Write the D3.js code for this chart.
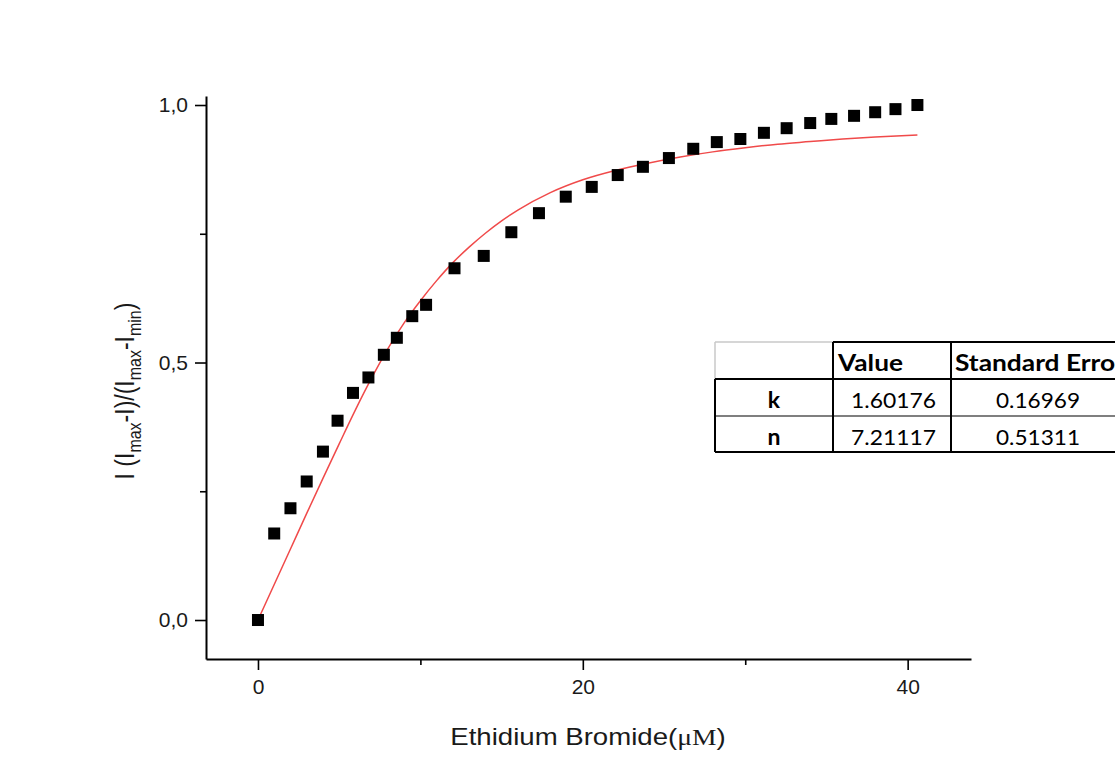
<!DOCTYPE html>
<html>
<head>
<meta charset="utf-8">
<script src="https://cdn.jsdelivr.net/npm/d3@7"></script>
<style>
  body { margin: 0; background: #fff; }
  text { font-family: "Liberation Sans", Arial, sans-serif; }
</style>
</head>
<body>
<div id="my_dataviz"></div>
<script>

// measured points (concentration, normalised intensity)
var conc = [0, 1, 2, 3, 4, 4.9, 5.85, 6.8, 7.75, 8.55, 9.5, 10.35, 12.1, 13.9, 15.6, 17.3,
            18.95, 20.55, 22.15, 23.7, 25.3, 26.8, 28.25, 29.7, 31.15, 32.55, 34, 35.3, 36.7, 38, 39.25, 40.6];
var signal = [0, 0.168, 0.217, 0.269, 0.327, 0.387, 0.441, 0.471, 0.515, 0.548, 0.59, 0.612, 0.683, 0.707, 0.753, 0.79,
              0.822, 0.841, 0.864, 0.88, 0.897, 0.915, 0.928, 0.934, 0.946, 0.955, 0.965, 0.973, 0.979, 0.986, 0.992, 1.0];

// fitted curve
var fitX = [0, 1, 2, 3, 4, 5, 6, 7, 8, 9, 10, 11, 12, 13, 14, 15, 16, 18, 20, 22, 24, 26, 28, 30, 32, 34, 36, 38, 40.6];
var fitY = [0, 0.069, 0.138, 0.207, 0.275, 0.342, 0.408, 0.47, 0.527, 0.577, 0.62, 0.659, 0.694, 0.724, 0.751, 0.775, 0.796,
            0.83, 0.855, 0.873, 0.887, 0.899, 0.909, 0.917, 0.924, 0.929, 0.934, 0.938, 0.942];

var xMajor = [0, 20, 40];
var xMinor = [10, 30];
var yMajor = [0, 0.5, 1.0];
var yMinor = [0.25, 0.75];

// fit parameter table
var paramNames = ["k", "n"];
var paramValues = ["1.60176", "7.21117"];
var paramErrors = ["0.16969", "0.51311"];

var width = 1115, height = 780;

var svg = d3.select("#my_dataviz")
  .append("svg")
    .attr("width", width)
    .attr("height", height);

var x = d3.scaleLinear().domain([-3.2, 43.9]).range([206, 971]);
var y = d3.scaleLinear().domain([-0.0757, 1.0175]).range([659, 96]);

// x axis
svg.append("g").attr("transform", "translate(0,659)")
  .call(d3.axisBottom(x).tickValues(xMajor).tickSize(11).tickSizeOuter(0).tickPadding(9)
    .tickFormat(d3.format("d")));
svg.append("g").attr("transform", "translate(0,659)")
  .call(d3.axisBottom(x).tickValues(xMinor).tickSize(6).tickSizeOuter(0).tickFormat(""))
  .select(".domain").remove();

// y axis
svg.append("g").attr("transform", "translate(206,0)")
  .call(d3.axisLeft(y).tickValues(yMajor).tickSize(11).tickSizeOuter(0).tickPadding(7)
    .tickFormat(function(d) { return d3.format(".1f")(d).replace(".", ","); }));
svg.append("g").attr("transform", "translate(206,0)")
  .call(d3.axisLeft(y).tickValues(yMinor).tickSize(6).tickSizeOuter(0).tickFormat(""))
  .select(".domain").remove();

svg.selectAll(".domain").attr("stroke", "#000").attr("stroke-width", 2);
svg.selectAll(".tick line").attr("stroke", "#000").attr("stroke-width", 1.6);
svg.selectAll(".tick text")
  .attr("fill", "#1a1a1a")
  .style("font-size", "21px")
  .style("font-family", "'Liberation Sans', Arial, sans-serif");

// fitted curve
var line = d3.line()
  .x(function(d) { return x(d[0]); })
  .y(function(d) { return y(d[1]); })
  .curve(d3.curveMonotoneX);

svg.append("path")
  .datum(d3.zip(fitX, fitY))
  .attr("fill", "none")
  .attr("stroke", "#f04a4a")
  .attr("stroke-width", 1.5)
  .attr("d", line);

// data squares
var sq = 12;
svg.selectAll("rect.pt")
  .data(d3.zip(conc, signal))
  .enter()
  .append("rect")
    .attr("class", "pt")
    .attr("x", function(d) { return x(d[0]) - sq / 2; })
    .attr("y", function(d) { return y(d[1]) - sq / 2; })
    .attr("width", sq)
    .attr("height", sq)
    .attr("fill", "#000");

// axis titles
var xt = svg.append("text")
  .attr("transform", "translate(588,745) scale(1.2,1)")
  .attr("text-anchor", "middle")
  .attr("fill", "#1a1a1a")
  .style("font-size", "23px");
xt.append("tspan").text("Ethidium Bromide(");
xt.append("tspan").style("font-family", "'Liberation Serif', 'Times New Roman', serif").text("μM");
xt.append("tspan").text(")");

var yt = svg.append("text")
  .attr("transform", "translate(134,391) scale(1.2,1) rotate(-90)")
  .attr("text-anchor", "middle")
  .attr("fill", "#1a1a1a")
  .style("font-size", "23px");
yt.append("tspan").text("I (I");
yt.append("tspan").attr("dy", 6).style("font-size", "16px").text("max");
yt.append("tspan").attr("dy", -6).text("-I)/(I");
yt.append("tspan").attr("dy", 6).style("font-size", "16px").text("max");
yt.append("tspan").attr("dy", -6).text("-I");
yt.append("tspan").attr("dy", 6).style("font-size", "16px").text("min");
yt.append("tspan").attr("dy", -6).text(")");

// parameter table
var tbl = svg.append("g");
var colX = [715, 833, 951, 1130];
var rowY = [342, 379, 416, 452];

tbl.append("line").attr("x1", colX[0]).attr("x2", colX[1]).attr("y1", rowY[0]).attr("y2", rowY[0])
  .attr("stroke", "#c8c8c8").attr("stroke-width", 1.5);
tbl.append("line").attr("x1", colX[0]).attr("x2", colX[0]).attr("y1", rowY[0]).attr("y2", rowY[1])
  .attr("stroke", "#c8c8c8").attr("stroke-width", 1.5);

var blk = [
  [colX[1], rowY[0], colX[3], rowY[0], 2],
  [colX[0], rowY[1], colX[3], rowY[1], 2],
  [colX[0], rowY[2], colX[3], rowY[2], 1.2],
  [colX[0], rowY[3], colX[3], rowY[3], 2],
  [colX[0], rowY[1], colX[0], rowY[3], 2],
  [colX[1], rowY[0], colX[1], rowY[3], 2],
  [colX[2], rowY[0], colX[2], rowY[3], 2]
];
tbl.selectAll("line.b")
  .data(blk)
  .enter()
  .append("line")
    .attr("class", "b")
    .attr("x1", function(d) { return d[0]; })
    .attr("y1", function(d) { return d[1]; })
    .attr("x2", function(d) { return d[2]; })
    .attr("y2", function(d) { return d[3]; })
    .attr("stroke", "#000")
    .attr("stroke-width", function(d) { return d[4]; });

var tf = "Lato, 'Open Sans', sans-serif";
tbl.append("text").attr("x", colX[1] + 5).attr("y", rowY[0] + 29)
  .attr("textLength", 65).attr("lengthAdjust", "spacingAndGlyphs")
  .style("font-family", tf).style("font-size", "23px").style("font-weight", "bold").text("Value");
tbl.append("text").attr("x", colX[2] + 4).attr("y", rowY[0] + 29)
  .attr("textLength", 170).attr("lengthAdjust", "spacingAndGlyphs")
  .style("font-family", tf).style("font-size", "23px").style("font-weight", "bold").text("Standard Error");

paramNames.forEach(function(p, i) {
  var by = rowY[i + 1] + 29;
  tbl.append("text").attr("x", 774).attr("y", by).attr("text-anchor", "middle")
    .style("font-family", tf).style("font-size", "23px").style("font-weight", "bold").text(p);
  tbl.append("text").attr("x", colX[2] - 15).attr("y", by).attr("text-anchor", "end")
    .attr("textLength", 85).attr("lengthAdjust", "spacingAndGlyphs")
    .style("font-family", tf).style("font-size", "22px").text(paramValues[i]);
  tbl.append("text").attr("x", 1038).attr("y", by).attr("text-anchor", "middle")
    .attr("textLength", 84).attr("lengthAdjust", "spacingAndGlyphs")
    .style("font-family", tf).style("font-size", "22px").text(paramErrors[i]);
});

</script>
</body>
</html>
